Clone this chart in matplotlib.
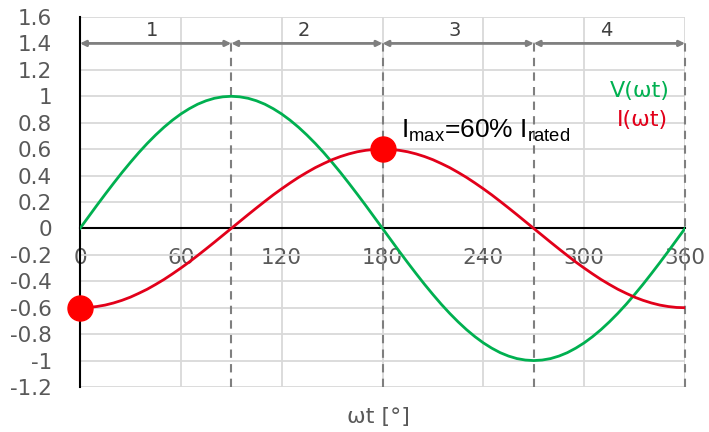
import matplotlib
matplotlib.use("Agg")
import matplotlib.pyplot as plt

# Data (every 5 degrees)
wt = list(range(0, 365, 5))
V = [0, .087, .174, .259, .342, .423, .5, .574, .643, .707, .766, .819, .866, .906, .940, .966, .985, .996, 1.0,
     .996, .985, .966, .940, .906, .866, .819, .766, .707, .643, .574, .5, .423, .342, .259, .174, .087, 0,
     -.087, -.174, -.259, -.342, -.423, -.5, -.574, -.643, -.707, -.766, -.819, -.866, -.906, -.940, -.966, -.985, -.996, -1.0,
     -.996, -.985, -.966, -.940, -.906, -.866, -.819, -.766, -.707, -.643, -.574, -.5, -.423, -.342, -.259, -.174, -.087, 0]
I = [-.6, -.598, -.591, -.580, -.564, -.544, -.520, -.491, -.460, -.424, -.386, -.344, -.300, -.254, -.205, -.155, -.104, -.052, 0,
     .052, .104, .155, .205, .254, .300, .344, .386, .424, .460, .491, .520, .544, .564, .580, .591, .598, .6,
     .598, .591, .580, .564, .544, .520, .491, .460, .424, .386, .344, .300, .254, .205, .155, .104, .052, 0,
     -.052, -.104, -.155, -.205, -.254, -.300, -.344, -.386, -.424, -.460, -.491, -.520, -.544, -.564, -.580, -.591, -.598, -.6]

marker_x = [0, 180]
marker_y = [-0.6, 0.6]

x_ticks = [0, 60, 120, 180, 240, 300, 360]
y_ticks = [-1.2, -1, -0.8, -0.6, -0.4, -0.2, 0, 0.2, 0.4, 0.6, 0.8, 1, 1.2, 1.4, 1.6]
y_labels = ["-1.2", "-1", "-0.8", "-0.6", "-0.4", "-0.2", "0", "0.2", "0.4", "0.6", "0.8", "1", "1.2", "1.4", "1.6"]

boundaries = [90, 180, 270, 360]
regions = [(0, 90, "1"), (90, 180, "2"), (180, 270, "3"), (270, 360, "4")]

GREEN = "#00B050"
RED = "#E2001A"
GRAY = "#7F7F7F"
TXT = "#595959"

plt.rcParams['font.family'] = ['DejaVu Sans']
plt.rcParams['mathtext.fontset'] = 'custom'
plt.rcParams['mathtext.rm'] = 'Liberation Sans'
fig = plt.figure(figsize=(7.09, 4.32), dpi=100)
ax = fig.add_axes([80/709, 1-387/432, 605/709, 370/432])

ax.set_xlim(0, 360)
ax.set_ylim(-1.2, 1.6)

# grid
ax.set_xticks(x_ticks)
ax.set_yticks(y_ticks)
ax.set_yticklabels(y_labels)
ax.grid(True, color="#D9D9D9", linewidth=1.3, zorder=0)
ax.set_axisbelow(True)

for s in ['top', 'right']:
    ax.spines[s].set_visible(False)
ax.spines['left'].set_color('black')
ax.spines['left'].set_linewidth(1.5)
ax.spines['bottom'].set_position(('data', 0))
ax.spines['bottom'].set_color('black')
ax.spines['bottom'].set_linewidth(1.5)
ax.spines['bottom'].set_zorder(1)

ax.tick_params(axis='both', length=0, labelsize=15.5, labelcolor=TXT)
ax.tick_params(axis='y', pad=20)
ax.tick_params(axis='x', pad=14)

# dashed boundaries
for b in boundaries:
    ax.plot([b, b], [-1.2, 1.4], color=GRAY, linewidth=1.5, linestyle=(0, (4, 3)), zorder=2, clip_on=False)

# arrows and region labels
for a, b, lab in regions:
    ax.annotate("", xy=(b, 1.4), xytext=(a, 1.4),
                arrowprops=dict(arrowstyle="<|-|>", color=GRAY, lw=2, mutation_scale=8,
                                shrinkA=0, shrinkB=0), zorder=3)
    ax.text((a + b) / 2 - 2, 1.5, lab, ha='center', va='center', fontsize=14, color="#404040")

# curves
ax.plot(wt, V, color=GREEN, linewidth=2, zorder=4)
ax.plot(wt, I, color=RED, linewidth=2, zorder=4)
ax.plot(marker_x, marker_y, linestyle='none', marker='o', markersize=18, color="#FF0000",
        zorder=5, clip_on=False)

# texts
ax.text(351, 1.04, "V(\u03c9t)", color=GREEN, fontsize=16, ha='right', va='center')
ax.text(350, 0.82, "I(\u03c9t)", color=RED, fontsize=16, ha='right', va='center')
ax.text(191, 0.69, r"I$_{\mathrm{max}}$=60% I$_{\mathrm{rated}}$", fontsize=19,
        family='Liberation Sans', color='black', ha='left', va='baseline')

ax.set_xlabel("\u03c9t [\u00b0]", fontsize=16, color=TXT, labelpad=0)
ax.xaxis.set_label_coords(0.493, -0.055)

fig.savefig("out.png", dpi=100)
